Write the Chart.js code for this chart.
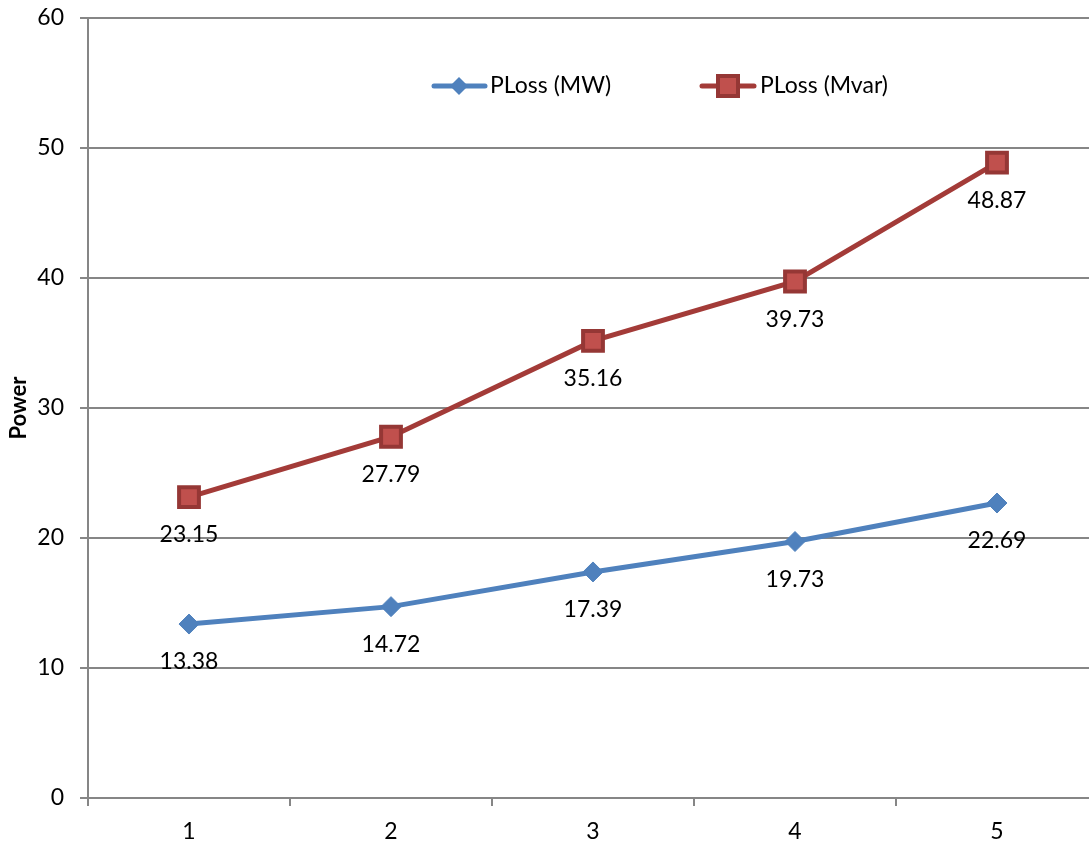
<!DOCTYPE html>
<html>
<head>
<meta charset="utf-8">
<script src="https://cdn.jsdelivr.net/npm/chart.js@4"></script>
<style>
  html, body { margin: 0; padding: 0; background: #fff; overflow: hidden; }
  #wrap { width: 1098px; height: 844px; position: relative; }
  canvas { display: block; }
</style>
</head>
<body>
<div id="wrap"><canvas id="lossChart"></canvas></div>
<script>
// chart data
const categories = ['1', '2', '3', '4', '5'];
const plossMW   = [13.38, 14.72, 17.39, 19.73, 22.69];
const plossMvar = [23.15, 27.79, 35.16, 39.73, 48.87];
const yTicks = [0, 10, 20, 30, 40, 50, 60];

const FONT = 'Lato, "Open Sans", sans-serif';
const BLUE = '#4F81BD', RED_LINE = '#A33B38', RED_FILL = '#C0504D', RED_EDGE = '#953735';

// value labels under each point
const valueLabels = {
  id: 'valueLabels',
  afterDatasetsDraw(chart) {
    const ctx = chart.ctx;
    ctx.save();
    ctx.font = '23px ' + FONT;
    ctx.fillStyle = '#000';
    ctx.textAlign = 'center';
    ctx.textBaseline = 'middle';
    chart.data.datasets.forEach((ds, i) => {
      chart.getDatasetMeta(i).data.forEach((pt, j) => {
        ctx.fillText(ds.data[j].toFixed(2), pt.x, pt.y + 38);
      });
    });
    ctx.restore();
  }
};

// excel style legend: line through marker
const lineLegend = {
  id: 'lineLegend',
  afterDraw(chart) {
    const ctx = chart.ctx;
    ctx.save();
    ctx.lineCap = 'round';
    // blue
    ctx.strokeStyle = BLUE; ctx.lineWidth = 5;
    ctx.beginPath(); ctx.moveTo(434, 86); ctx.lineTo(485, 86); ctx.stroke();
    ctx.fillStyle = BLUE;
    ctx.beginPath(); ctx.moveTo(459, 77); ctx.lineTo(468, 86); ctx.lineTo(459, 95); ctx.lineTo(450, 86); ctx.closePath(); ctx.fill();
    // red
    ctx.strokeStyle = RED_LINE;
    ctx.beginPath(); ctx.moveTo(702, 86); ctx.lineTo(754, 86); ctx.stroke();
    ctx.fillStyle = RED_FILL; ctx.strokeStyle = RED_EDGE; ctx.lineWidth = 4;
    ctx.beginPath(); ctx.rect(718, 76, 20, 20); ctx.fill(); ctx.stroke();
    ctx.fillStyle = '#000';
    ctx.font = '23px ' + FONT;
    ctx.textBaseline = 'middle';
    ctx.fillText('PLoss (MW)', 490, 86);
    ctx.fillText('PLoss (Mvar)', 760, 86);
    ctx.restore();
  }
};

new Chart(document.getElementById('lossChart'), {
  type: 'line',
  data: {
    labels: categories,
    datasets: [
      { label: 'PLoss (MW)', data: plossMW, borderColor: BLUE, borderWidth: 5,
        pointStyle: 'rectRot', pointRadius: 10, pointBackgroundColor: BLUE, pointBorderColor: BLUE, pointBorderWidth: 1,
        tension: 0 },
      { label: 'PLoss (Mvar)', data: plossMvar, borderColor: RED_LINE, borderWidth: 5,
        pointStyle: 'rect', pointRadius: 14, pointBackgroundColor: RED_FILL, pointBorderColor: RED_EDGE, pointBorderWidth: 4,
        tension: 0 }
    ]
  },
  options: {
    responsive: true,
    maintainAspectRatio: false,
    animation: false,
    layout: { autoPadding: false, padding: { top: 18, right: 0, left: 0, bottom: 0 } },
    plugins: { legend: { display: false }, tooltip: { enabled: false } },
    scales: {
      x: {
        type: 'category',
        offset: true,
        grid: { offset: true, drawOnChartArea: false, tickLength: 8, color: '#868686', lineWidth: 2 },
        border: { color: '#868686', width: 2 },
        ticks: { color: '#000', font: { family: FONT, size: 23 }, padding: 12 },
        afterFit(s) { s.height = 46; s.paddingLeft = 0; s.paddingRight = 0; }
      },
      y: {
        min: 0, max: 60,
        afterBuildTicks(s) { s.ticks = yTicks.map(v => ({ value: v })); },
        grid: { color: '#868686', lineWidth: 2, tickLength: 8 },
        border: { color: '#868686', width: 2 },
        ticks: { color: '#000', font: { family: FONT, size: 23 }, padding: 16 },
        title: { display: true, text: 'Power', color: '#000', font: { family: FONT, size: 22, weight: 'bold' }, padding: { top: 6, bottom: 0 } },
        afterFit(s) { s.width = 88; s.paddingTop = 0; s.paddingBottom = 0; }
      }
    }
  },
  plugins: [valueLabels, lineLegend]
});
</script>
</body>
</html>
